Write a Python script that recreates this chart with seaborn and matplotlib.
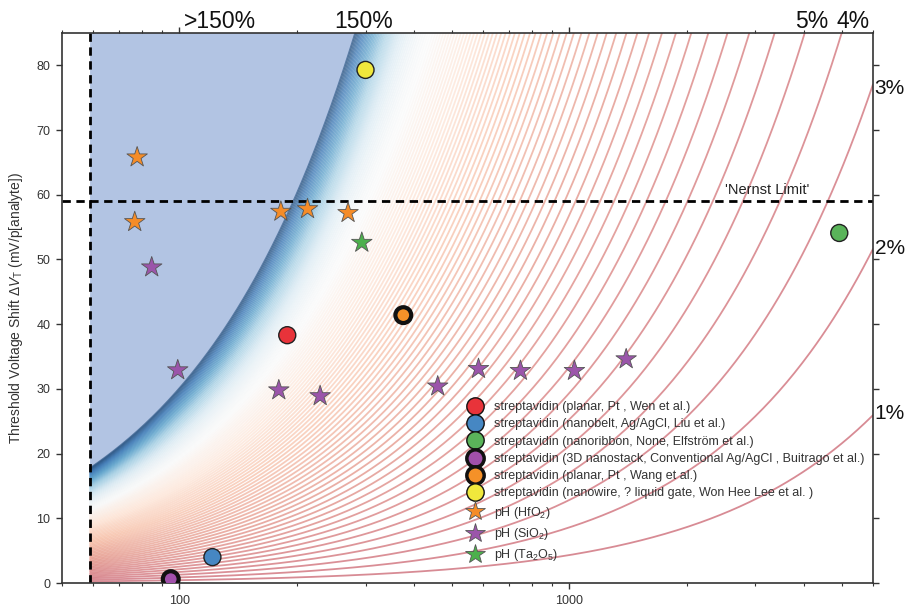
import numpy as np
import pandas as pd
import seaborn as sns
import matplotlib.pyplot as plt
from matplotlib.lines import Line2D
from matplotlib.ticker import LogLocator, NullFormatter

sns.set_style("ticks")
plt.rcParams['font.family'] = ['Liberation Sans', 'DejaVu Sans']
plt.rcParams['mathtext.fontset'] = 'custom'
plt.rcParams['mathtext.rm'] = 'Liberation Sans'
plt.rcParams['mathtext.it'] = 'Liberation Sans:italic'

# streptavidin sensors (circles)
strep_labels = ['streptavidin (planar, Pt , Wen et al.)',
                'streptavidin (nanobelt, Ag/AgCl, Liu et al.)',
                'streptavidin (nanoribbon, None, Elfström et al.)',
                'streptavidin (3D nanostack, Conventional Ag/AgCl , Buitrago et al.)',
                'streptavidin (planar, Pt , Wang et al.)',
                'streptavidin (nanowire, ? liquid gate, Won Hee Lee et al. )']
strep_x = [189, 121.5, 4920, 95, 375, 300]
strep_y = [38.3, 4.0, 54.1, 0.6, 41.4, 79.3]
strep_thick = [False, False, False, True, True, False]
strep_colors = ['#e8333a', '#4687c3', '#5ab45a', '#a050aa', '#f59128', '#f0e83c']

# pH sensors (stars)
hfo2_x = [77.9, 76.8, 182, 213, 270.6]
hfo2_y = [65.8, 55.8, 57.4, 57.8, 57.2]
sio2_x = [84.9, 99, 179.8, 229.5, 459.5, 584.6, 748.8, 1030, 1398]
sio2_y = [48.8, 32.9, 29.8, 28.9, 30.4, 33.1, 32.8, 32.8, 34.6]
ta2o5_x = [293.5]
ta2o5_y = [52.6]
oxide_labels = ['pH (HfO$_2$)', 'pH (SiO$_2$)', 'pH (Ta$_2$O$_5$)']
oxide_colors = ['#f58c28', '#9b55aa', '#4cb04c']

# iso-percentage contour levels (%)
pct_levels = list(range(1, 101))
nernst = 59
xmin, xmax, ymax = 50, 6000, 85

fig = plt.figure(figsize=(9.07, 6.08), dpi=100)
ax = fig.add_axes([0.0684, 0.0411, 0.894, 0.9046])
ax.set_xscale('log')

xs = np.logspace(np.log10(nernst), np.log10(xmax), 400)
ax.fill_between(xs, xs * np.log10(2.0), ymax + 5, color='#b2c4e3', lw=0, zorder=0)
cmap = plt.get_cmap('RdBu')
for p in pct_levels:
    if p <= 56:
        c = cmap(0.1 + 0.4 * (p - 1) / 55)
        a = 0.5
    else:
        c = cmap(0.5 + 0.48 * ((p - 56) / 44) ** 1.3)
        a = 0.55
    ax.plot(xs, xs * np.log10(1 + p / 100), color=c, lw=1.3, alpha=a, zorder=1)

ax.axvline(nernst, color='k', ls=(0, (3, 2)), lw=2, zorder=2)
ax.axhline(nernst, color='k', ls=(0, (3, 2)), lw=2, zorder=2)

strep = pd.DataFrame({'x': strep_x, 'y': strep_y, 'label': strep_labels, 'thick': strep_thick})
pal = dict(zip(strep_labels, strep_colors))
sns.scatterplot(data=strep[~strep.thick], x='x', y='y', hue='label', palette=pal, s=150,
                edgecolor='#222222', linewidth=1.0, legend=False, ax=ax, zorder=4)
sns.scatterplot(data=strep[strep.thick], x='x', y='y', hue='label', palette=pal, s=130,
                edgecolor='#111111', linewidth=3.0, legend=False, ax=ax, zorder=4)

stars = pd.DataFrame({'x': hfo2_x + sio2_x + ta2o5_x, 'y': hfo2_y + sio2_y + ta2o5_y,
                      'oxide': [oxide_labels[0]] * len(hfo2_x) + [oxide_labels[1]] * len(sio2_x)
                      + [oxide_labels[2]] * len(ta2o5_x)})
sns.scatterplot(data=stars, x='x', y='y', hue='oxide', palette=dict(zip(oxide_labels, oxide_colors)),
                marker='*', s=240, edgecolor='#555555', linewidth=0.6, legend=False, ax=ax, zorder=4)

ax.set_xlim(xmin, xmax)
ax.set_ylim(0, ymax)
ax.set_xticks([100, 1000], labels=['100', '1000'])
ax.xaxis.set_minor_locator(LogLocator(base=10, subs=np.arange(2, 10)))
ax.xaxis.set_minor_formatter(NullFormatter())
ax.set_yticks(range(0, 81, 10))
ax.set_xlabel('')
ax.set_ylabel(r'Threshold Voltage Shift $\Delta V_{\mathrm{T}}$ (mV/p[analyte])', fontsize=10, color='#333333',
              labelpad=8)
ax.tick_params(which='both', direction='out', top=True, right=True, labeltop=False, labelright=False,
               colors='#333333', labelsize=9)
ax.tick_params(which='major', length=4.5, width=1, pad=4)
ax.tick_params(which='minor', length=2.5, width=0.8)
for s in ax.spines.values():
    s.set_color('#333333')
    s.set_linewidth(1.2)

for txt, xv in [('>150%', 127), ('150%', 296), ('5%', 4183), ('4%', 5333)]:
    ax.annotate(txt, (xv, 1.0), xycoords=('data', 'axes fraction'), ha='center', va='bottom',
                fontsize=16.5, color='#111111', annotation_clip=False)
for txt, yv in [('3%', 76.4), ('2%', 51.7), ('1%', 26.2)]:
    ax.annotate(txt, (1.002, yv), xycoords=('axes fraction', 'data'), ha='left', va='center',
                fontsize=15, color='#111111', annotation_clip=False)
ax.text(2512, 60.8, "'Nernst Limit'", ha='left', va='center', fontsize=10.5, color='#222222')

handles = []
for lab, col, th in zip(strep_labels, strep_colors, strep_thick):
    handles.append(Line2D([], [], ls='', marker='o', markersize=12.5, markerfacecolor=col,
                          markeredgecolor='#111111', markeredgewidth=2.5 if th else 1.0))
for col in oxide_colors:
    handles.append(Line2D([], [], ls='', marker='*', markersize=15, markerfacecolor=col,
                          markeredgecolor='#555555', markeredgewidth=0.6))
ax.legend(handles, strep_labels + oxide_labels, loc='upper left', bbox_to_anchor=(0.486, 0.342),
          frameon=False, fontsize=9, labelspacing=0.42, handletextpad=0.55, borderpad=0,
          labelcolor='#333333')

plt.savefig('out.png', dpi=100)
plt.close('all')
